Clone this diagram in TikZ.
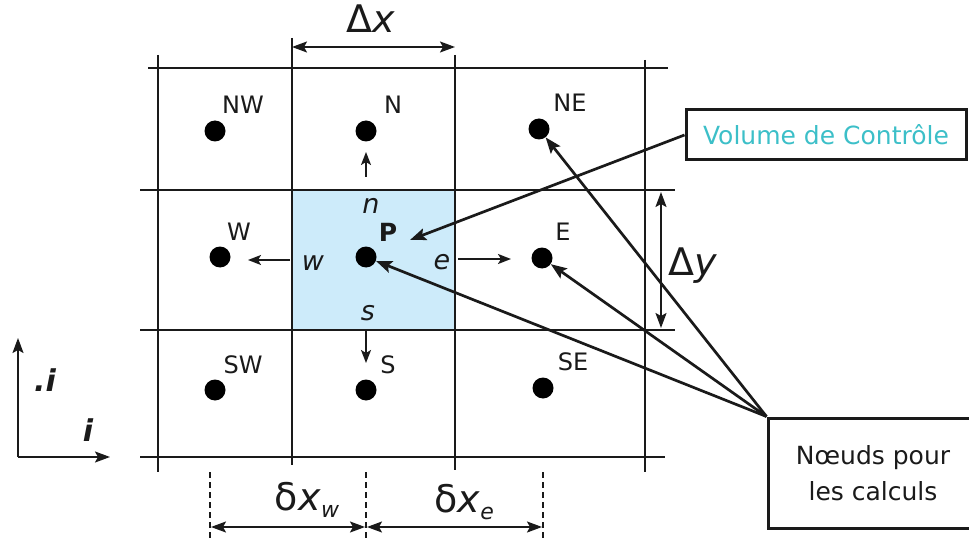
\documentclass[tikz,border=0pt]{standalone}
\usepackage{fontspec}
\setmainfont{DejaVu Sans}
\usetikzlibrary{arrows.meta}
\definecolor{cvblue}{HTML}{CDEBFA}
\definecolor{cvtext}{HTML}{3CBFC8}
\definecolor{ink}{HTML}{1A1A1A}
\tikzset{
  mytip/.tip={Stealth[length=15pt,width=11pt,inset=3pt]},
  smalltip/.tip={Stealth[length=13pt,width=10pt,inset=3pt]},
  bigtip/.tip={Stealth[length=16pt,width=12pt,inset=3pt]}
}
\begin{document}
\begin{tikzpicture}[x=1pt,y=-1pt, color=ink,
  gridline/.style={line width=2.5pt, ink},
  dotnode/.style={circle, fill=black, minimum size=21pt, inner sep=0pt},
  lbl/.style={font=\fontsize{24}{28}\selectfont, inner sep=0pt},
  face/.style={font=\fontsize{27}{30}\selectfont\itshape, inner sep=0pt},
  big/.style={font=\fontsize{38}{42}\selectfont, inner sep=0pt},
  arr/.style={-bigtip, line width=2.7pt},
  farr/.style={-smalltip, line width=2pt},
  aarr/.style={-mytip, line width=2pt},
  darr/.style={mytip-mytip, line width=2pt},
  callout/.style={draw, line width=3pt, inner sep=0pt}
]
\useasboundingbox (0,0) rectangle (969,540);
% control volume
\fill[cvblue] (292,190) rectangle (455,330);
% grid
\draw[gridline] (148,68) -- (668,68);
\draw[gridline] (140,190) -- (675,190);
\draw[gridline] (140,330) -- (675,330);
\draw[gridline] (140,457) -- (665,457);
\draw[gridline] (158,55) -- (158,472);
\draw[gridline] (292,38) -- (292,465);
\draw[gridline] (455,55) -- (455,470);
\draw[gridline] (645,60) -- (645,472);
% nodes
\node[dotnode] (NWd) at (215,131) {};
\node[dotnode] (Nd) at (366,131) {};
\node[dotnode] (NEd) at (539,129) {};
\node[dotnode] (Wd) at (220,257) {};
\node[dotnode] (Pd) at (366,257) {};
\node[dotnode] (Ed) at (542,258) {};
\node[dotnode] (SWd) at (215,390) {};
\node[dotnode] (Sd) at (366,390) {};
\node[dotnode] (SEd) at (543,388) {};
\node[lbl] (NWl) at (243,105) {NW};
\node[lbl] (Nl) at (393,105) {N};
\node[lbl] (NEl) at (570,103) {NE};
\node[lbl] (Wl) at (239,232) {W};
\node[lbl,font=\fontsize{25}{28}\selectfont\bfseries] (Pl) at (388,232) {P};
\node[lbl] (El) at (563,232) {E};
\node[lbl] (SWl) at (243,365) {SW};
\node[lbl] (Sl) at (388,365) {S};
\node[lbl] (SEl) at (573,362) {SE};
% faces
\node[face] (nf) at (371,206) {n};
\node[face] (wf) at (313,263) {w};
\node[face] (ef) at (442,262) {e};
\node[face] (sf) at (368,313) {s};
\coordinate (nA) at (366,177); \coordinate (nB) at (366,152);
\coordinate (wA) at (290,260); \coordinate (wB) at (248,260);
\coordinate (eA) at (458,259); \coordinate (eB) at (511,259);
\coordinate (sA) at (366,330); \coordinate (sB) at (366,363);
\draw[farr] (nA) -- (nB);
\draw[farr] (wA) -- (wB);
\draw[farr] (eA) -- (eB);
\draw[farr] (sA) -- (sB);
% dimension Delta x
\coordinate (dxA) at (292,47); \coordinate (dxB) at (455,47);
\draw[darr] (dxA) -- (dxB);
\node[big] (dxl) at (371,19) {Δ\textit{x}};
% Delta y
\coordinate (dyA) at (661,192); \coordinate (dyB) at (661,328);
\draw[darr] (dyA) -- (dyB);
\node[big] (dyl) at (693,266) {Δ\textit{y}};
% axes
\coordinate (O) at (18,457);
\coordinate (Oy) at (18,338);
\coordinate (Ox) at (110,457);
\draw[aarr] (O) -- (Oy);
\draw[aarr] (O) -- (Ox);
\node[face,font=\fontsize{30}{34}\selectfont\itshape\bfseries] (jl) at (45,380) {.i};
\node[face,font=\fontsize{30}{34}\selectfont\itshape\bfseries] (il) at (88,430) {i};
% delta x dims
\draw[dash pattern=on 6pt off 4pt, line width=1.8pt] (210,472) -- (210,540);
\draw[dash pattern=on 6pt off 4pt, line width=1.8pt] (366,472) -- (366,540);
\draw[dash pattern=on 6pt off 4pt, line width=1.8pt] (543,472) -- (543,540);
\coordinate (dwA) at (211,527); \coordinate (dwB) at (365,527);
\coordinate (deA) at (367,527); \coordinate (deB) at (542,527);
\draw[darr] (dwA) -- (dwB);
\draw[darr] (deA) -- (deB);
\node[big] (dwl) at (307,500) {δ\textit{x}\raisebox{-7pt}{\fontsize{22}{24}\selectfont\textit{w}}};
\node[big] (del) at (464,502) {δ\textit{x}\raisebox{-7pt}{\fontsize{22}{24}\selectfont\textit{e}}};
% callout boxes
\node[callout, minimum width=280pt, minimum height=50pt, font=\fontsize{25}{28}\selectfont, text=cvtext] (vol) at (826,135) {Volume de Contrôle};
\node[callout, minimum width=210pt, minimum height=110pt, align=center, font=\fontsize{25}{36}\selectfont] (nb) at (873,473) {Nœuds pour\\les calculs};
\coordinate (volT) at (410,240);
\draw[arr] (vol.west) -- (volT);
\draw[arr] (nb.north west) -- (NEd);
\draw[arr] (nb.north west) -- (Ed);
\draw[arr] (nb.north west) -- (Pd);
\end{tikzpicture}
\end{document}
